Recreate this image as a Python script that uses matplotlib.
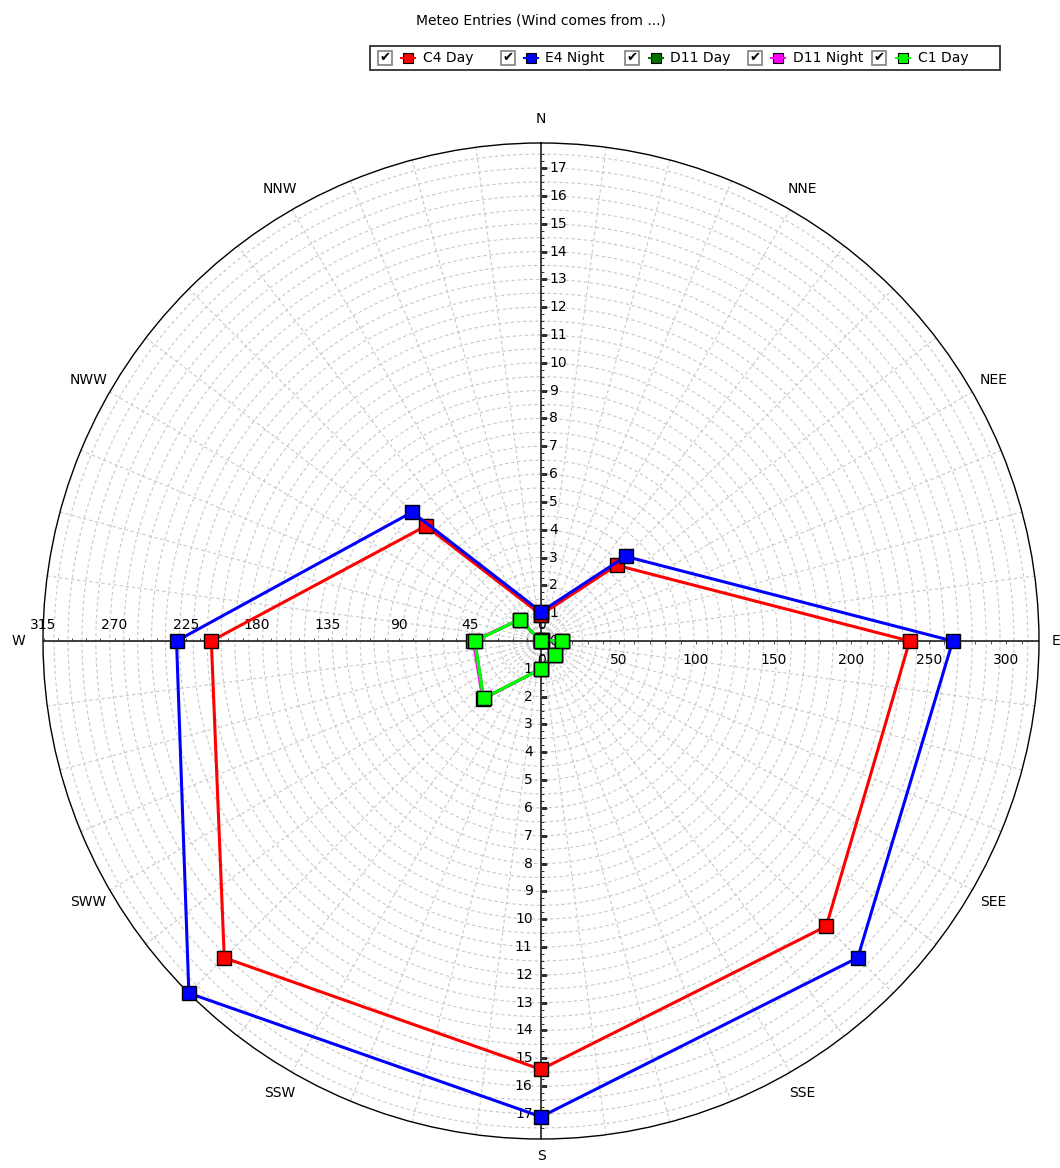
import numpy as np
import matplotlib.pyplot as plt
from matplotlib.lines import Line2D
from matplotlib.patches import Rectangle

# wind directions of the data points (clockwise from north)
directions = ["N", "NE", "E", "SE", "S", "SW", "W", "NW"]
direction_deg = [0, 45, 90, 135, 180, 225, 270, 315]
compass_labels = ["N", "NNE", "NEE", "E", "SEE", "SSE",
                  "S", "SSW", "SWW", "W", "NWW", "NNW"]

# series values (in units of the N-S axis)
c4_day = [0.95, 3.85, 13.25, 14.5, 15.4, 16.1, 11.85, 5.85]
e4_night = [1.05, 4.3, 14.8, 16.1, 17.1, 17.9, 13.1, 6.55]
d11_day = [0.0, 0.05, 0.76, 0.69, 1.0, 2.92, 2.38, 1.09]
d11_night = [0.0, 0.05, 0.76, 0.69, 1.0, 2.96, 2.43, 1.09]
c1_day = [0.0, 0.05, 0.76, 0.69, 1.0, 2.92, 2.38, 1.09]

series_names = ["C4 Day", "E4 Night", "D11 Day", "D11 Night", "C1 Day"]
series_values = [c4_day, e4_night, d11_day, d11_night, c1_day]
series_colors = ["#ff0000", "#0000ff", "#007000", "#ff00ff", "#00ff00"]

# axis tick labels
north_ticks = list(range(0, 18))
south_ticks = list(range(1, 18))
east_ticks = [0, 50, 100, 150, 200, 250, 300]
west_ticks = [0, 45, 90, 135, 180, 225, 270, 315]

W, H = 1060, 1168
fig = plt.figure(figsize=(W / 100, H / 100), dpi=100)
plt.rcParams['font.family'] = ['DejaVu Sans']
FS = 10


def fx(x):
    return x / W


def fy(y):
    return 1 - y / H


# polar area: centre (541, 641), radius 498 px
cx, cy, rad = 541, 641, 498
ax = fig.add_axes([fx(cx - rad), fy(cy + rad), 2 * rad / W, 2 * rad / H],
                  projection='polar')
ax.set_theta_zero_location('N')
ax.set_theta_direction(-1)
rmax = 17.9
ax.set_ylim(0, rmax)
ax.set_xticks([])
ax.set_yticks([])
ax.grid(False)
ax.spines['polar'].set_color('black')
ax.spines['polar'].set_linewidth(1.0)

grid_kw = dict(color='#c8c8c8', lw=0.8, ls=(0, (3, 2.5)), zorder=1)
full = np.linspace(0, 2 * np.pi, 721)
for r in np.arange(0.5, rmax, 0.5):
    ax.plot(full, np.full_like(full, r), **grid_kw)
for a in np.arange(0, 360, 7.5):
    t = np.deg2rad(a)
    ax.plot([t, t], [0, rmax], **grid_kw)

# axis lines through the centre
for a in [0, 90, 180, 270]:
    t = np.deg2rad(a)
    ax.plot([t, t], [0, rmax], color='#202020', lw=1.2, zorder=2)

tick_kw = dict(ls='none', color='#303030', zorder=2)

# N/S axis ticks and labels
minor = np.arange(0, 17.6, 0.25)
ax.plot(np.zeros_like(minor), minor, marker=1, ms=2.5, mew=0.6, **tick_kw)
ax.plot(np.full_like(minor, np.pi), minor, marker=1, ms=2.5, mew=0.6,
        **tick_kw)
for k in north_ticks:
    ax.plot([0], [k], marker=1, ms=4.5, mew=0.8, **tick_kw)
    ax.annotate(str(k), xy=(0, k), xytext=(6, 0), textcoords='offset points',
                ha='left', va='center', fontsize=FS, zorder=3)
for k in south_ticks:
    ax.plot([np.pi], [k], marker=1, ms=4.5, mew=0.8, **tick_kw)
    ax.annotate(str(k), xy=(np.pi, k), xytext=(-6, 0),
                textcoords='offset points', ha='right', va='center',
                fontsize=FS, zorder=3)

# E/W axis ticks and labels (own scales)
east_scale = 1.55 / 27.8
west_scale = 1.578 / 27.8
em = np.arange(0, 315, 10) * east_scale
ax.plot(np.full_like(em, np.pi / 2), em, marker=3, ms=2.5, mew=0.6,
        **tick_kw)
wm = np.arange(0, 316, 9) * west_scale
ax.plot(np.full_like(wm, 3 * np.pi / 2), wm, marker=2, ms=2.5, mew=0.6,
        **tick_kw)
for v in east_ticks:
    ax.annotate(str(v), xy=(np.pi / 2, v * east_scale), xytext=(0, -13.5),
                textcoords='offset points', ha='center', va='center',
                fontsize=FS, zorder=3)
for v in west_ticks:
    ax.annotate(str(v), xy=(3 * np.pi / 2, v * west_scale), xytext=(0, 11.5),
                textcoords='offset points', ha='center', va='center',
                fontsize=FS, zorder=3)

# compass labels
for i, lab in enumerate(compass_labels):
    r_lab = 18.5 if lab in ("E", "S") else 18.78
    ax.text(np.deg2rad(i * 30), r_lab, lab, ha='center', va='center',
            fontsize=FS, clip_on=False)

# data series
theta = np.deg2rad(direction_deg + [direction_deg[0]])
for name, vals, col in zip(series_names, series_values, series_colors):
    ax.plot(theta, vals + [vals[0]], color=col, lw=2.2, marker='s', ms=10,
            mfc=col, mec='black', mew=1.0, zorder=5, clip_on=False)

# title
fig.text(fx(541), fy(20), "Meteo Entries (Wind comes from ...)",
         ha='center', va='center', fontsize=FS)

# legend with check boxes
fig.patches.append(Rectangle((fx(370), fy(70)), 630 / W, 24 / H,
                             transform=fig.transFigure, facecolor='white',
                             edgecolor='#303030', lw=1.3))
box_x = [385, 508, 632, 755, 879]
mark_x = [408, 531, 656, 778, 903]
text_x = [423, 545, 670, 793, 918]
ly = 58
for i, (name, col) in enumerate(zip(series_names, series_colors)):
    fig.patches.append(Rectangle((fx(box_x[i] - 7), fy(ly + 7)), 14 / W,
                                 14 / H, transform=fig.transFigure,
                                 facecolor='white', edgecolor='#808080',
                                 lw=1.2))
    fig.text(fx(box_x[i]), fy(ly), "\u2714", ha='center', va='center',
             fontsize=9.5)
    fig.lines.append(Line2D([fx(mark_x[i] - 7), fx(mark_x[i] + 7)],
                            [fy(ly), fy(ly)], transform=fig.transFigure,
                            color=col, lw=1.5, zorder=5))
    fig.lines.append(Line2D([fx(mark_x[i])], [fy(ly)],
                            transform=fig.transFigure, color=col, ls='none',
                            marker='s', ms=7.5, mfc=col, mec='black',
                            mew=0.8))
    fig.text(fx(text_x[i]), fy(ly), name, ha='left', va='center', fontsize=FS)

fig.savefig("out.png", dpi=100)
